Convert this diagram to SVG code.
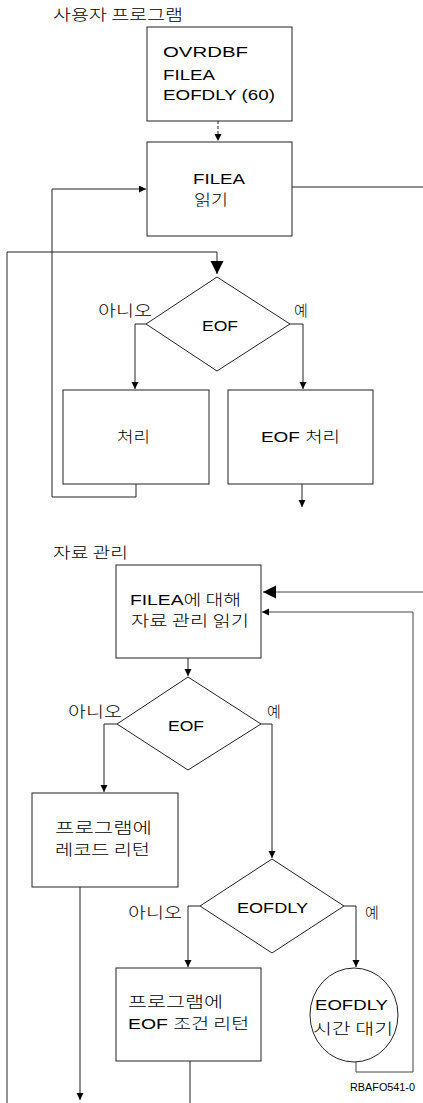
<svg xmlns="http://www.w3.org/2000/svg" width="423" height="1103" viewBox="0 0 423 1103">
<style>
  text { font-family: "Liberation Sans", "Noto Sans CJK KR", sans-serif; font-size: 15px; fill: #000; }
  .k { font-family: "Noto Sans CJK KR", "Liberation Sans", sans-serif; font-size: 15px; font-weight: 300; }
  .box { fill: #fff; stroke: #222; stroke-width: 1; }
  .ln { fill: none; stroke: #222; stroke-width: 1; }
  .gr { stroke: #444; }
  .small { font-size: 10px; }
</style>
<defs>
  <marker id="a" markerUnits="userSpaceOnUse" markerWidth="8" markerHeight="8" refX="7" refY="3.5" orient="auto">
    <path d="M0,0 L7,3.5 L0,7 z" fill="#000"/>
  </marker>
  <marker id="b" markerUnits="userSpaceOnUse" markerWidth="14" markerHeight="14" refX="13" refY="6.5" orient="auto">
    <path d="M0,0 L13,6.5 L0,13 z" fill="#000"/>
  </marker>
</defs>

<text class="k" x="53" y="20" textLength="130" lengthAdjust="spacingAndGlyphs">사용자 프로그램</text>
<text class="k" x="53" y="558" textLength="75" lengthAdjust="spacingAndGlyphs">자료 관리</text>

<g id="connectors">
  <path class="ln" d="M218,121 V141" stroke-dasharray="3,2" marker-end="url(#a)"/>
  <path class="ln" d="M292,187 H423"/>
  <path class="ln" d="M136,484 V497 H52 V189 H146" marker-end="url(#a)"/>
  <path class="ln" d="M7,1103 V252 H217 V274" marker-end="url(#b)"/>
  <path class="ln" d="M146,324 H135 V389" marker-end="url(#a)"/>
  <path class="ln" d="M290,324 H303 V389" marker-end="url(#a)"/>
  <path class="ln" d="M302,484 V507" marker-end="url(#a)"/>
  <path class="ln gr" d="M423,592 H263" marker-end="url(#b)"/>
  <path class="ln" d="M188,658 V676" marker-end="url(#a)"/>
  <path class="ln" d="M117,724 H104 V792" marker-end="url(#a)"/>
  <path class="ln" d="M261,724 H272 V858" marker-end="url(#a)"/>
  <path class="ln" d="M80,887 V1100" marker-end="url(#a)"/>
  <path class="ln" d="M200,906 H188 V967" marker-end="url(#a)"/>
  <path class="ln" d="M344,906 H356 V967" marker-end="url(#a)"/>
  <path class="ln gr" d="M356,1062 V1072 H413 V612 H262" marker-end="url(#a)"/>
  <path class="ln" d="M190,1061 V1103"/>
</g>

<g id="n-ovrdbf">
  <rect class="box" x="147" y="27" width="145" height="94"/>
  <text x="163" y="57" textLength="85" lengthAdjust="spacingAndGlyphs">OVRDBF</text>
  <text x="163" y="80" textLength="52" lengthAdjust="spacingAndGlyphs">FILEA</text>
  <text x="163" y="100" textLength="112" lengthAdjust="spacingAndGlyphs">EOFDLY (60)</text>
</g>

<g id="n-read">
  <rect class="box" x="147" y="142" width="145" height="94"/>
  <text x="193" y="184" textLength="52" lengthAdjust="spacingAndGlyphs">FILEA</text>
  <text class="k" x="194" y="205" textLength="34" lengthAdjust="spacingAndGlyphs">읽기</text>
</g>

<g id="n-eof1">
  <polygon class="box" points="217,277 290,324 217,371 146,324"/>
  <text x="202" y="331" textLength="36" lengthAdjust="spacingAndGlyphs">EOF</text>
  <text class="k" x="98" y="316" textLength="54" lengthAdjust="spacingAndGlyphs">아니오</text>
  <text class="k" x="294" y="316">예</text>
</g>

<g id="n-process">
  <rect class="box" x="63" y="390" width="146" height="94"/>
  <text class="k" x="117" y="442" textLength="33" lengthAdjust="spacingAndGlyphs">처리</text>
</g>

<g id="n-eofprocess">
  <rect class="box" x="228" y="390" width="145" height="94"/>
  <text x="261" y="442" textLength="79" lengthAdjust="spacingAndGlyphs">EOF <tspan class="k">처리</tspan></text>
</g>

<g id="n-dmread">
  <rect class="box" x="116" y="565" width="145" height="93"/>
  <text x="130" y="605" textLength="111" lengthAdjust="spacingAndGlyphs">FILEA<tspan class="k">에 대해</tspan></text>
  <text class="k" x="131" y="626" textLength="118" lengthAdjust="spacingAndGlyphs">자료 관리 읽기</text>
</g>

<g id="n-eof2">
  <polygon class="box" points="188,677 261,724 188,770 117,724"/>
  <text x="168" y="731" textLength="36" lengthAdjust="spacingAndGlyphs">EOF</text>
  <text class="k" x="68" y="717" textLength="54" lengthAdjust="spacingAndGlyphs">아니오</text>
  <text class="k" x="267" y="717">예</text>
</g>

<g id="n-return">
  <rect class="box" x="32" y="793" width="146" height="94"/>
  <text class="k" x="55" y="833" textLength="97" lengthAdjust="spacingAndGlyphs">프로그램에</text>
  <text class="k" x="55" y="855" textLength="95" lengthAdjust="spacingAndGlyphs">레코드 리턴</text>
</g>

<g id="n-eofdly">
  <polygon class="box" points="272,859 344,906 272,953 200,906"/>
  <text x="237" y="913" textLength="71" lengthAdjust="spacingAndGlyphs">EOFDLY</text>
  <text class="k" x="128" y="918" textLength="54" lengthAdjust="spacingAndGlyphs">아니오</text>
  <text class="k" x="365" y="918">예</text>
</g>

<g id="n-eofreturn">
  <rect class="box" x="116" y="968" width="145" height="93"/>
  <text class="k" x="128" y="1007" textLength="95" lengthAdjust="spacingAndGlyphs">프로그램에</text>
  <text x="128" y="1029" textLength="121" lengthAdjust="spacingAndGlyphs">EOF <tspan class="k">조건 리턴</tspan></text>
</g>

<g id="n-wait">
  <ellipse class="box" cx="354" cy="1015" rx="44" ry="47"/>
  <text x="315" y="1010" textLength="73" lengthAdjust="spacingAndGlyphs">EOFDLY</text>
  <text class="k" x="313" y="1034" textLength="80" lengthAdjust="spacingAndGlyphs">시간 대기</text>
</g>

<text class="small" x="350" y="1091" textLength="65" lengthAdjust="spacingAndGlyphs">RBAFO541-0</text>
</svg>
